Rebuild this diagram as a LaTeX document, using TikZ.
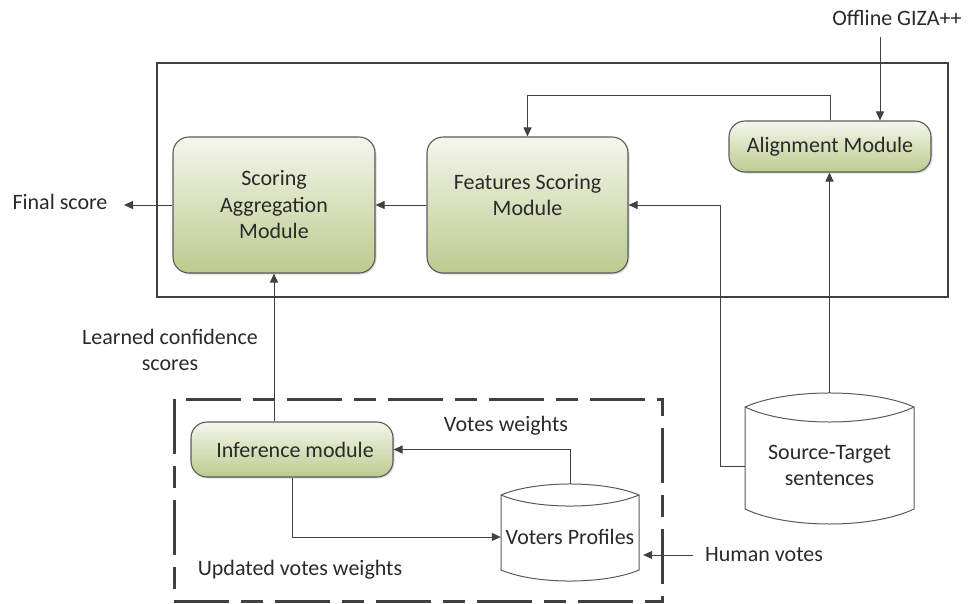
\documentclass[tikz,border=0pt]{standalone}
\usepackage{fontspec}
\setmainfont{Carlito}
\usetikzlibrary{arrows.meta,shadows,calc}
\definecolor{lc}{HTML}{404040}
\definecolor{gtop}{HTML}{F4F6EC}
\definecolor{gbot}{HTML}{BCCB8E}
\definecolor{bd}{HTML}{5A5A5A}
\definecolor{tx}{HTML}{2A2A2A}
\begin{document}
\begin{tikzpicture}[x=1pt,y=-1pt,
  font=\fontsize{22}{26.5}\selectfont, text=tx,
  module/.style={draw=bd, line width=1.1pt, rounded corners=16pt, top color=gtop, bottom color=gbot,
    align=center, inner sep=0pt, drop shadow={shadow xshift=1.5pt,shadow yshift=-1.5pt,opacity=0.3}},
  conn/.style={draw=lc, line width=1pt},
  arr/.style={conn, -{Triangle[length=9pt,width=8pt]}},
  lbl/.style={align=center, inner sep=0pt},
  store/.style={draw=bd, line width=1pt, fill=white},
  hole/.style={inner sep=0pt, draw=none},
]
\useasboundingbox (0,0) rectangle (968,603);

% outer frames
\draw[lc, line width=2.5pt] (157,63) rectangle (948,297);
\draw[lc, line width=3pt, dash pattern=on 55pt off 12pt on 22pt off 12pt] (174,399) rectangle (662,601);

% data stores
\path[store] (745,407) .. controls (787,388.3) and (872,388.3) .. (914,407) -- (914,509)
  .. controls (872,529) and (787,529) .. (745,509) -- cycle;
\draw[bd, line width=1pt] (745,407) .. controls (787,427) and (872,427) .. (914,407);
\path[store] (501,495) .. controls (535.5,480.3) and (604.5,480.3) .. (639,495) -- (639,570)
  .. controls (604.5,584.7) and (535.5,584.7) .. (501,570) -- cycle;
\draw[bd, line width=1pt] (501,495) .. controls (535.5,509.7) and (604.5,509.7) .. (639,495);

\node[hole, minimum width=169pt, minimum height=131pt] (src) at (829.5,458.5) {};
\node[lbl] (srct) at (829.5,465.5) {Source-Target\\sentences};
\node[hole, minimum width=138pt, minimum height=97pt] (vp) at (570,532.5) {};
\node[lbl] (vpt) at (570,537) {Voters Profiles};

% modules
\node[module, minimum width=202pt, minimum height=136pt] (agg) at (274,205) {Scoring\\Aggregation\\Module};
\node[module, minimum width=201pt, minimum height=136pt] (feat) at (527.5,205) {};
\node[lbl] (featt) at (527.5,195) {Features Scoring\\Module};
\node[module, minimum width=202pt, minimum height=51pt] (align) at (830,146.5) {Alignment Module};
\node[module, minimum width=202pt, minimum height=55pt] (inf) at (292,449.5) {\hspace*{6pt}Inference module};

% labels
\node[lbl] (giza) at (897,18) {Offline GIZA++};
\node[lbl] (final) at (60,202) {Final score};
\node[lbl] (learn) at (170,350) {Learned confidence\\scores};
\node[lbl] (vw) at (506,426) {Votes weights};
\node[lbl] (uvw) at (300,570) {Updated votes weights};
\node[lbl] (human) at (764,555) {Human votes};

% helper coordinates
\coordinate (ytop) at (0,95);
\coordinate (g1) at (880,37);
\coordinate (xr) at (720,0);
\coordinate (fs) at (124,205);

% connectors
\draw[arr] (g1) -- (g1 |- align.north);
\draw[arr] (align.north) -- (align.north |- ytop) -| (feat.north);
\draw[arr] (src.north) -- (src.north |- align.south);
\draw[arr] ($(src.west)+(0,7.5)$) -| (xr |- feat.east) -- (feat.east);
\draw[arr] (feat.west) -- (agg.east);
\draw[arr] (agg.west) -- (fs);
\draw[arr] (inf.north -| agg.south) -- (agg.south);
\draw[arr] (vp.north) |- (inf.east);
\draw[arr] (inf.south) |- ($(vp.west)+(0,4.5)$);
\draw[arr] ($(human.west)+(-12,0)$) -- ($(human.west -| vp.east)+(4,0)$);
\end{tikzpicture}
\end{document}
